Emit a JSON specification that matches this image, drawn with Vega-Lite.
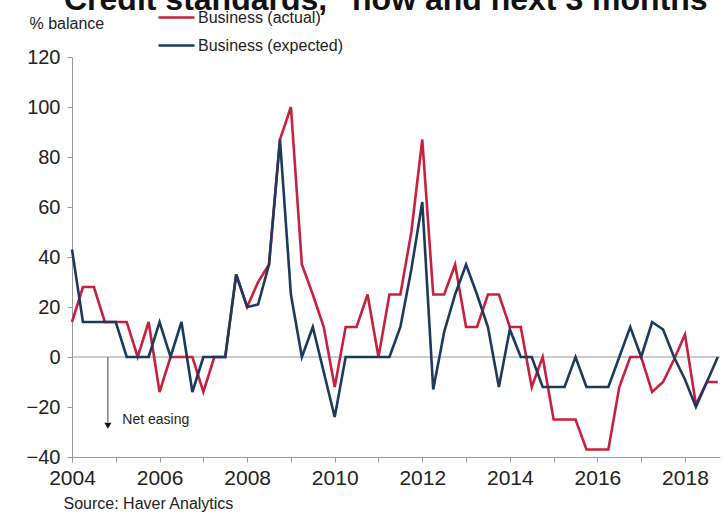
{
  "$schema": "https://vega.github.io/schema/vega-lite/v6.json",
  "autosize": {"type": "none"},
  "width": 648,
  "height": 400,
  "padding": {"left": 72, "top": 57, "right": 3, "bottom": 60},
  "background": "white",
  "title": {
    "text": "Credit standards, “now and next 3 months",
    "anchor": "start",
    "frame": "group",
    "font": "Liberation Sans",
    "fontSize": 32,
    "fontWeight": "bold",
    "color": "#111",
    "dx": -8,
    "dy": 19,
    "offset": 0
  },
  "config": {
    "view": {"stroke": null},
    "font": "Liberation Sans",
    "axis": {
      "grid": false,
      "domainColor": "#999",
      "tickColor": "#999",
      "labelColor": "#222",
      "labelFont": "Liberation Sans",
      "titleFont": "Liberation Sans",
      "titleFontWeight": "normal",
      "titleColor": "#222"
    }
  },
  "datasets": {
    "series": [
      {"t": 2004.00, "s": "Business (actual)", "v": 14},
      {"t": 2004.25, "s": "Business (actual)", "v": 28},
      {"t": 2004.50, "s": "Business (actual)", "v": 28},
      {"t": 2004.75, "s": "Business (actual)", "v": 14},
      {"t": 2005.00, "s": "Business (actual)", "v": 14},
      {"t": 2005.25, "s": "Business (actual)", "v": 14},
      {"t": 2005.50, "s": "Business (actual)", "v": 0},
      {"t": 2005.75, "s": "Business (actual)", "v": 14},
      {"t": 2006.00, "s": "Business (actual)", "v": -14},
      {"t": 2006.25, "s": "Business (actual)", "v": 0},
      {"t": 2006.50, "s": "Business (actual)", "v": 0},
      {"t": 2006.75, "s": "Business (actual)", "v": 0},
      {"t": 2007.00, "s": "Business (actual)", "v": -14},
      {"t": 2007.25, "s": "Business (actual)", "v": 0},
      {"t": 2007.50, "s": "Business (actual)", "v": 0},
      {"t": 2007.75, "s": "Business (actual)", "v": 33},
      {"t": 2008.00, "s": "Business (actual)", "v": 20},
      {"t": 2008.25, "s": "Business (actual)", "v": 30},
      {"t": 2008.50, "s": "Business (actual)", "v": 37},
      {"t": 2008.75, "s": "Business (actual)", "v": 87},
      {"t": 2009.00, "s": "Business (actual)", "v": 100},
      {"t": 2009.25, "s": "Business (actual)", "v": 37},
      {"t": 2009.50, "s": "Business (actual)", "v": 25},
      {"t": 2009.75, "s": "Business (actual)", "v": 12},
      {"t": 2010.00, "s": "Business (actual)", "v": -12},
      {"t": 2010.25, "s": "Business (actual)", "v": 12},
      {"t": 2010.50, "s": "Business (actual)", "v": 12},
      {"t": 2010.75, "s": "Business (actual)", "v": 25},
      {"t": 2011.00, "s": "Business (actual)", "v": 0},
      {"t": 2011.25, "s": "Business (actual)", "v": 25},
      {"t": 2011.50, "s": "Business (actual)", "v": 25},
      {"t": 2011.75, "s": "Business (actual)", "v": 50},
      {"t": 2012.00, "s": "Business (actual)", "v": 87},
      {"t": 2012.25, "s": "Business (actual)", "v": 25},
      {"t": 2012.50, "s": "Business (actual)", "v": 25},
      {"t": 2012.75, "s": "Business (actual)", "v": 37},
      {"t": 2013.00, "s": "Business (actual)", "v": 12},
      {"t": 2013.25, "s": "Business (actual)", "v": 12},
      {"t": 2013.50, "s": "Business (actual)", "v": 25},
      {"t": 2013.75, "s": "Business (actual)", "v": 25},
      {"t": 2014.00, "s": "Business (actual)", "v": 12},
      {"t": 2014.25, "s": "Business (actual)", "v": 12},
      {"t": 2014.50, "s": "Business (actual)", "v": -12},
      {"t": 2014.75, "s": "Business (actual)", "v": 0},
      {"t": 2015.00, "s": "Business (actual)", "v": -25},
      {"t": 2015.25, "s": "Business (actual)", "v": -25},
      {"t": 2015.50, "s": "Business (actual)", "v": -25},
      {"t": 2015.75, "s": "Business (actual)", "v": -37},
      {"t": 2016.00, "s": "Business (actual)", "v": -37},
      {"t": 2016.25, "s": "Business (actual)", "v": -37},
      {"t": 2016.50, "s": "Business (actual)", "v": -12},
      {"t": 2016.75, "s": "Business (actual)", "v": 0},
      {"t": 2017.00, "s": "Business (actual)", "v": 0},
      {"t": 2017.25, "s": "Business (actual)", "v": -14},
      {"t": 2017.50, "s": "Business (actual)", "v": -10},
      {"t": 2017.75, "s": "Business (actual)", "v": -1},
      {"t": 2018.00, "s": "Business (actual)", "v": 9},
      {"t": 2018.25, "s": "Business (actual)", "v": -19},
      {"t": 2018.50, "s": "Business (actual)", "v": -10},
      {"t": 2018.75, "s": "Business (actual)", "v": -10},
      {"t": 2004.00, "s": "Business (expected)", "v": 43},
      {"t": 2004.25, "s": "Business (expected)", "v": 14},
      {"t": 2004.50, "s": "Business (expected)", "v": 14},
      {"t": 2004.75, "s": "Business (expected)", "v": 14},
      {"t": 2005.00, "s": "Business (expected)", "v": 14},
      {"t": 2005.25, "s": "Business (expected)", "v": 0},
      {"t": 2005.50, "s": "Business (expected)", "v": 0},
      {"t": 2005.75, "s": "Business (expected)", "v": 0},
      {"t": 2006.00, "s": "Business (expected)", "v": 14},
      {"t": 2006.25, "s": "Business (expected)", "v": 0},
      {"t": 2006.50, "s": "Business (expected)", "v": 14},
      {"t": 2006.75, "s": "Business (expected)", "v": -14},
      {"t": 2007.00, "s": "Business (expected)", "v": 0},
      {"t": 2007.25, "s": "Business (expected)", "v": 0},
      {"t": 2007.50, "s": "Business (expected)", "v": 0},
      {"t": 2007.75, "s": "Business (expected)", "v": 33},
      {"t": 2008.00, "s": "Business (expected)", "v": 20},
      {"t": 2008.25, "s": "Business (expected)", "v": 21},
      {"t": 2008.50, "s": "Business (expected)", "v": 37},
      {"t": 2008.75, "s": "Business (expected)", "v": 87},
      {"t": 2009.00, "s": "Business (expected)", "v": 25},
      {"t": 2009.25, "s": "Business (expected)", "v": 0},
      {"t": 2009.50, "s": "Business (expected)", "v": 12},
      {"t": 2009.75, "s": "Business (expected)", "v": -6},
      {"t": 2010.00, "s": "Business (expected)", "v": -24},
      {"t": 2010.25, "s": "Business (expected)", "v": 0},
      {"t": 2010.50, "s": "Business (expected)", "v": 0},
      {"t": 2010.75, "s": "Business (expected)", "v": 0},
      {"t": 2011.00, "s": "Business (expected)", "v": 0},
      {"t": 2011.25, "s": "Business (expected)", "v": 0},
      {"t": 2011.50, "s": "Business (expected)", "v": 12},
      {"t": 2011.75, "s": "Business (expected)", "v": 35},
      {"t": 2012.00, "s": "Business (expected)", "v": 62},
      {"t": 2012.25, "s": "Business (expected)", "v": -13},
      {"t": 2012.50, "s": "Business (expected)", "v": 10},
      {"t": 2012.75, "s": "Business (expected)", "v": 25},
      {"t": 2013.00, "s": "Business (expected)", "v": 37},
      {"t": 2013.25, "s": "Business (expected)", "v": 25},
      {"t": 2013.50, "s": "Business (expected)", "v": 12},
      {"t": 2013.75, "s": "Business (expected)", "v": -12},
      {"t": 2014.00, "s": "Business (expected)", "v": 11},
      {"t": 2014.25, "s": "Business (expected)", "v": 0},
      {"t": 2014.50, "s": "Business (expected)", "v": 0},
      {"t": 2014.75, "s": "Business (expected)", "v": -12},
      {"t": 2015.00, "s": "Business (expected)", "v": -12},
      {"t": 2015.25, "s": "Business (expected)", "v": -12},
      {"t": 2015.50, "s": "Business (expected)", "v": 0},
      {"t": 2015.75, "s": "Business (expected)", "v": -12},
      {"t": 2016.00, "s": "Business (expected)", "v": -12},
      {"t": 2016.25, "s": "Business (expected)", "v": -12},
      {"t": 2016.50, "s": "Business (expected)", "v": 0},
      {"t": 2016.75, "s": "Business (expected)", "v": 12},
      {"t": 2017.00, "s": "Business (expected)", "v": 0},
      {"t": 2017.25, "s": "Business (expected)", "v": 14},
      {"t": 2017.50, "s": "Business (expected)", "v": 11},
      {"t": 2017.75, "s": "Business (expected)", "v": 0},
      {"t": 2018.00, "s": "Business (expected)", "v": -9},
      {"t": 2018.25, "s": "Business (expected)", "v": -20},
      {"t": 2018.50, "s": "Business (expected)", "v": -10},
      {"t": 2018.75, "s": "Business (expected)", "v": 0}
    ],
    "arrow": [
      {"t": 2004.82, "v0": 0, "v1": -26}
    ],
    "head": [
      {"t": 2004.82, "v": -27.5}
    ],
    "note": [
      {"t": 2005.15, "v": -25, "label": "Net easing"}
    ]
  },
  "layer": [
    {
      "data": {"values": [{"v": 0}]},
      "mark": {"type": "rule", "color": "#999", "strokeWidth": 1},
      "encoding": {"y": {"field": "v", "type": "quantitative", "scale": {"domain": [-40, 120]}}}
    },
    {
      "data": {"name": "arrow"},
      "mark": {"type": "rule", "color": "#444", "strokeWidth": 1},
      "encoding": {
        "x": {"field": "t", "type": "quantitative"},
        "y": {"field": "v0", "type": "quantitative"},
        "y2": {"field": "v1"}
      }
    },
    {
      "data": {"name": "head"},
      "mark": {"type": "point", "shape": "triangle-down", "filled": true, "color": "#111", "size": 50, "opacity": 1},
      "encoding": {
        "x": {"field": "t", "type": "quantitative"},
        "y": {"field": "v", "type": "quantitative"}
      }
    },
    {
      "data": {"name": "note"},
      "mark": {"type": "text", "align": "left", "baseline": "middle", "fontSize": 14, "color": "#222", "font": "Liberation Sans"},
      "encoding": {
        "x": {"field": "t", "type": "quantitative"},
        "y": {"field": "v", "type": "quantitative"},
        "text": {"field": "label"}
      }
    },
    {
      "data": {"name": "series"},
      "mark": {"type": "line", "strokeWidth": 2.6, "strokeJoin": "miter"},
      "encoding": {
        "x": {
          "field": "t",
          "type": "quantitative",
          "scale": {"domain": [2004, 2018.8], "nice": false, "zero": false},
          "axis": {
            "values": [2004, 2005, 2006, 2007, 2008, 2009, 2010, 2011, 2012, 2013, 2014, 2015, 2016, 2017, 2018],
            "labelExpr": "datum.value % 2 === 0 ? format(datum.value, 'd') : ''",
            "labelOverlap": false,
            "labelFlush": false,
            "labelFontSize": 21,
            "labelPadding": 5,
            "tickSize": 5,
            "title": "Source: Haver Analytics",
            "titleFontSize": 16,
            "titleAnchor": "start",
            "titleAlign": "left",
            "titleBaseline": "alphabetic",
            "titleX": -9,
            "titleY": 51
          }
        },
        "y": {
          "field": "v",
          "type": "quantitative",
          "scale": {"domain": [-40, 120], "nice": false},
          "axis": {
            "values": [-40, -20, 0, 20, 40, 60, 80, 100, 120],
            "labelFontSize": 20,
            "labelPadding": 7,
            "tickSize": 5,
            "title": "% balance",
            "titleAngle": 0,
            "titleFontSize": 16,
            "titleAlign": "left",
            "titleBaseline": "middle",
            "titleX": -43,
            "titleY": -34
          }
        },
        "color": {
          "field": "s",
          "type": "nominal",
          "scale": {"domain": ["Business (actual)", "Business (expected)"], "range": ["#c8203f", "#1b3a5c"]},
          "legend": {
            "title": null,
            "orient": "none",
            "legendX": 85,
            "legendY": -59,
            "direction": "vertical",
            "symbolType": "stroke",
            "symbolSize": 1296,
            "symbolStrokeWidth": 2.5,
            "rowPadding": -9,
            "padding": 0,
            "labelFontSize": 16,
            "labelColor": "#222",
            "labelOffset": 2,
            "labelFont": "Liberation Sans"
          }
        }
      }
    }
  ]
}
